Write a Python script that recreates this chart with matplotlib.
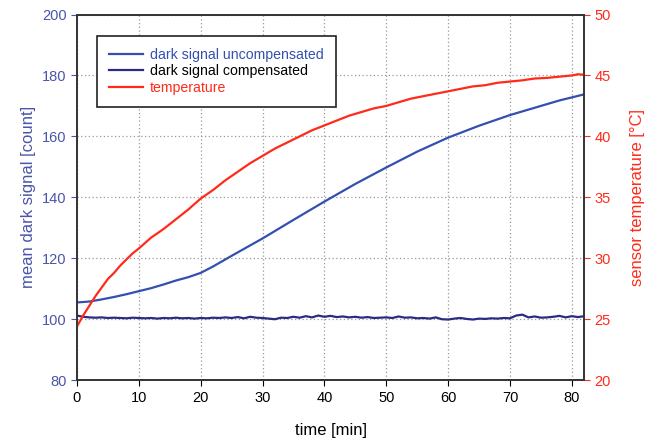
import matplotlib.pyplot as plt

plt.rcParams['font.family'] = ['Liberation Sans', 'DejaVu Sans']

# time axis [min] for the sampled points
t_unc = [0, 2, 4, 6, 8, 10, 12, 14, 16, 18, 20, 22, 25, 30, 35, 40, 45, 50, 55, 60, 65, 70, 75, 78, 80, 82]
dark_unc = [105.5, 105.8, 106.5, 107.3, 108.2, 109.2, 110.2, 111.4, 112.7, 113.8, 115.2, 117.3, 120.8, 126.5, 132.6, 138.6, 144.4, 149.8, 155.0, 159.6, 163.5, 167.0, 170.0, 171.8, 172.8, 173.8]

t_temp = [0, 1, 2, 3, 4, 5, 6, 7, 8, 9, 10, 12, 14, 16, 18, 20, 22, 24, 26, 28, 30, 32, 34, 36, 38, 40,
          42, 44, 46, 48, 50, 52, 54, 56, 58, 60, 62, 64, 66, 68, 70, 72, 74, 76, 78, 80, 81, 82]
temp = [24.4, 25.3, 26.1, 26.9, 27.6, 28.3, 28.8, 29.4, 29.9, 30.4, 30.8, 31.7, 32.4, 33.2, 34.0, 34.9, 35.6, 36.4, 37.1, 37.8, 38.4, 39.0, 39.5, 40.0, 40.5, 40.9,
        41.3, 41.7, 42.0, 42.3, 42.5, 42.8, 43.1, 43.3, 43.5, 43.7, 43.9, 44.1, 44.2, 44.4, 44.5, 44.6, 44.75, 44.8, 44.9, 45.0, 45.1, 45.05]

t_comp = list(range(0, 83))
dark_comp = [101.2, 100.8, 100.6, 100.5, 100.6, 100.4, 100.5, 100.4, 100.3, 100.5, 100.4, 100.3, 100.4, 100.2, 100.4, 100.3, 100.5, 100.3, 100.4, 100.2,
             100.4, 100.3, 100.5, 100.4, 100.6, 100.4, 100.7, 100.3, 100.8, 100.5, 100.4, 100.2, 100.0, 100.5, 100.4, 100.8, 100.5, 101.0, 100.6, 101.2,
             100.8, 101.1, 100.7, 100.9, 100.6, 100.8, 100.5, 100.7, 100.4, 100.5, 100.6, 100.4, 100.9, 100.5, 100.6, 100.3, 100.4, 100.2, 100.6, 100.0,
             99.9, 100.2, 100.4, 100.1, 99.9, 100.2, 100.1, 100.3, 100.2, 100.4, 100.3, 101.2, 101.5, 100.6, 100.9, 100.5, 100.6, 100.8, 101.1, 100.6, 101.0, 100.7, 101.0]

blue = '#3350b0'
navy = '#2b2b85'
red = '#ff2a1a'
tick_blue = '#4a55a8'

fig = plt.figure(figsize=(6.52, 4.40), dpi=100)
ax = fig.add_axes([0.118, 0.136, 0.778, 0.831])
ax2 = ax.twinx()

l1, = ax.plot(t_unc, dark_unc, color=blue, lw=1.6, label='dark signal uncompensated')
l2, = ax.plot(t_comp, dark_comp, color=navy, lw=1.6, label='dark signal compensated')
l3, = ax2.plot(t_temp, temp, color=red, lw=1.6, label='temperature')

ax.set_xlim(0, 82)
ax.set_ylim(80, 200)
ax2.set_ylim(20, 50)
ax.set_xticks(range(0, 81, 10))
ax.set_yticks(range(80, 201, 20))
ax2.set_yticks(range(20, 51, 5))

ax.grid(True, color='#999999', linestyle=(0, (1, 2)), lw=0.9)
ax.set_axisbelow(True)

ax.tick_params(axis='y', colors=tick_blue, labelsize=10.5, length=4)
ax.tick_params(axis='x', colors='black', labelsize=10.5, length=4)
ax2.tick_params(axis='y', colors=red, labelsize=10.5, length=4)
for a in (ax, ax2):
    for s in a.spines.values():
        s.set_color('#333333')
        s.set_linewidth(1.2)

ax.set_xlabel('time [min]', fontsize=12, labelpad=13)
ax.set_ylabel('mean dark signal [count]', fontsize=12, color=tick_blue, labelpad=4)
ax2.set_ylabel('sensor temperature [°C]', fontsize=12, color=red, labelpad=14)

leg = ax.legend(handles=[l1, l2, l3], loc='upper left', bbox_to_anchor=(0.039, 0.942),
                fontsize=10.2, frameon=True, fancybox=False, framealpha=1,
                edgecolor='#222222', handlelength=2.4, handletextpad=0.5,
                borderpad=0.85, labelspacing=0.18, borderaxespad=0)
leg.get_frame().set_linewidth(1.2)
for txt, c in zip(leg.get_texts(), [blue, 'black', red]):
    txt.set_color(c)

fig.savefig('out.png', dpi=100)
